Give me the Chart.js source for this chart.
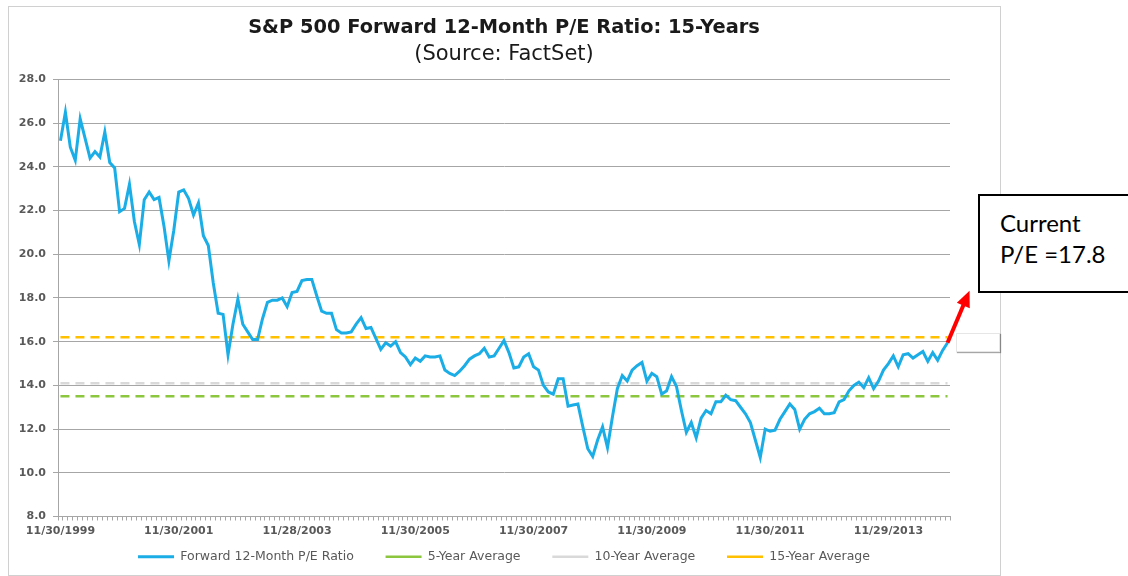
<!DOCTYPE html>
<html>
<head>
<meta charset="utf-8">
<script src="https://cdn.jsdelivr.net/npm/chart.js@4"></script>
<style>
    body { margin: 0; width: 1128px; height: 576px; overflow: hidden; background: #fff; position: relative; }
    #frame { position: absolute; left: 8px; top: 6px; width: 993px; height: 570px; box-sizing: border-box; border: 1px solid #d0d0d0; }
    #wrap { position: absolute; left: 8px; top: 6px; width: 992px; height: 569px; }
    #tag { position: absolute; left: 956px; top: 333px; width: 42px; height: 17px; background: #fff; border: 1px solid #e6e6e6; box-shadow: 1px 1px 1px rgba(0,0,0,0.35); }
    #note { position: absolute; left: 978px; top: 194px; width: 170px; height: 99px; border: 2px solid #000; background: #fff;
            font-family: Lato, sans-serif; font-size: 24px; line-height: 31px; padding: 11px 0 0 20px; box-sizing: border-box; color: #000; }
</style>
</head>
<body>
<div id="frame"></div>
<div id="wrap"><canvas id="chart1" width="992" height="569"></canvas></div>
<div id="tag"></div>
<div id="note">Current<br>P/E =17.8</div>
<script>
// monthly forward P/E, Nov 1999 .. Nov 2014
const peValues = [
    25.2, 26.5, 24.9, 24.3, 26.2, 25.3, 24.4, 24.7, 24.45, 25.6, 24.2, 23.95,
    21.95, 22.1, 23.2, 21.5, 20.45, 22.5, 22.85, 22.5, 22.6, 21.3, 19.7, 21.1,
    22.85, 22.95, 22.55, 21.8, 22.35, 20.85, 20.4, 18.7, 17.3, 17.25, 15.4, 16.8,
    17.95, 16.8, 16.45, 16.1, 16.1, 17.05, 17.8, 17.9, 17.9, 18.0, 17.6, 18.25,
    18.3, 18.8, 18.85, 18.85, 18.1, 17.4, 17.3, 17.3, 16.55, 16.4, 16.4, 16.45,
    16.8, 17.1, 16.6, 16.65, 16.15, 15.65, 15.95, 15.8, 16.0, 15.5, 15.3, 14.95,
    15.25, 15.1, 15.35, 15.3, 15.3, 15.35, 14.7, 14.55, 14.45, 14.65, 14.9, 15.2,
    15.35, 15.45, 15.7, 15.3, 15.35, 15.7, 16.05, 15.5, 14.8, 14.85, 15.3, 15.45,
    14.85, 14.7, 14.0, 13.7, 13.6, 14.3, 14.3, 13.05, 13.1, 13.15, 12.1, 11.1,
    10.75, 11.5, 12.1, 11.15, 12.55, 13.85, 14.45, 14.2, 14.7, 14.9, 15.05, 14.2,
    14.55, 14.4, 13.6, 13.75, 14.4, 13.95, 12.85, 11.85, 12.3, 11.6, 12.5, 12.85,
    12.7, 13.25, 13.25, 13.55, 13.35, 13.3, 13.0, 12.7, 12.3, 11.5, 10.7, 12.0,
    11.9, 11.95, 12.45, 12.8, 13.15, 12.9, 12.0, 12.45, 12.7, 12.8, 12.95, 12.7,
    12.7, 12.75, 13.25, 13.35, 13.75, 14.0, 14.15, 13.9, 14.35, 13.85, 14.2, 14.7,
    15.0, 15.35, 14.85, 15.4, 15.45, 15.25, 15.4, 15.55, 15.1, 15.5, 15.15, 15.6,
    15.95
];
const avg5 = 13.5;
const avg10 = 14.1;
const avg15 = 16.2;
const tickLabels = ['11/30/1999', '11/30/2001', '11/28/2003', '11/30/2005', '11/30/2007', '11/30/2009', '11/30/2011', '11/29/2013'];
const seriesNames = ['Forward 12-Month P/E Ratio', '5-Year Average', '10-Year Average', '15-Year Average'];
const seriesColors = ['#1AADE6', '#8CC63F', '#D9D9D9', '#FFC000'];

const months = [];
for (let i = 0; i < peValues.length; i++) {
    const m = (10 + i) % 12 + 1;
    const y = 1999 + Math.floor((10 + i) / 12);
    months.push(m + '/' + y);
}

const flat = v => peValues.map(() => v);

const arrowPlugin = {
    id: 'arrow',
    afterDraw(chart) {
        const meta = chart.getDatasetMeta(0);
        const last = meta.data[meta.data.length - 1];
        const x0 = last.x, y0 = last.y;
        const x1 = x0 + 22, y1 = y0 - 52;
        const ang = Math.atan2(y1 - y0, x1 - x0);
        const ctx = chart.ctx;
        ctx.save();
        ctx.strokeStyle = '#FF0000';
        ctx.fillStyle = '#FF0000';
        ctx.lineWidth = 4;
        ctx.beginPath();
        ctx.moveTo(x0, y0);
        ctx.lineTo(x1 - Math.cos(ang) * 12, y1 - Math.sin(ang) * 12);
        ctx.stroke();
        ctx.beginPath();
        ctx.moveTo(x1, y1);
        ctx.lineTo(x1 - Math.cos(ang) * 16 + Math.sin(ang) * 7, y1 - Math.sin(ang) * 16 - Math.cos(ang) * 7);
        ctx.lineTo(x1 - Math.cos(ang) * 16 - Math.sin(ang) * 7, y1 - Math.sin(ang) * 16 + Math.cos(ang) * 7);
        ctx.closePath();
        ctx.fill();
        ctx.restore();
    }
};

const ctx = document.getElementById('chart1').getContext('2d');
new Chart(ctx, {
    type: 'line',
    data: {
        labels: months,
        datasets: [
            { label: seriesNames[0], data: peValues, borderColor: seriesColors[0], backgroundColor: seriesColors[0], borderWidth: 3 },
            { label: seriesNames[1], data: flat(avg5), borderColor: seriesColors[1], backgroundColor: seriesColors[1], borderWidth: 2.5, borderDash: [9, 6] },
            { label: seriesNames[2], data: flat(avg10), borderColor: seriesColors[2], backgroundColor: seriesColors[2], borderWidth: 2.5, borderDash: [9, 6] },
            { label: seriesNames[3], data: flat(avg15), borderColor: seriesColors[3], backgroundColor: seriesColors[3], borderWidth: 2.5, borderDash: [9, 6] }
        ]
    },
    options: {
        responsive: false,
        animation: false,
        devicePixelRatio: 1,
        elements: { point: { radius: 0 }, line: { tension: 0 } },
        layout: { padding: { left: 0, right: 0, top: 0, bottom: 2 } },
        plugins: {
            title: {
                display: true,
                text: 'S&P 500 Forward 12-Month P/E Ratio: 15-Years',
                color: '#1a1a1a',
                font: { family: 'DejaVu Sans', size: 19.4, weight: 'bold' },
                padding: { top: 10, bottom: 3 }
            },
            subtitle: {
                display: true,
                text: '(Source: FactSet)',
                color: '#1a1a1a',
                font: { family: 'DejaVu Sans', size: 21 },
                padding: { top: 0, bottom: 12 }
            },
            legend: {
                position: 'bottom',
                labels: {
                    usePointStyle: true,
                    pointStyle: 'line',
                    pointStyleWidth: 36,
                    padding: 13,
                    color: '#595959',
                    font: { family: 'DejaVu Sans', size: 12.5 },
                    // wider gap after each entry, as in the Excel legend
                    generateLabels: chart => {
                        const items = Chart.defaults.plugins.legend.labels.generateLabels(chart);
                        items.forEach((it, i) => {
                            if (i < items.length - 1) it.text = it.text + '\u2002'.repeat(3);
                        });
                        return items;
                    }
                }
            },
            tooltip: { enabled: false }
        },
        scales: {
            x: {
                offset: true,
                grid: { offset: true, drawOnChartArea: false, color: '#A6A6A6', tickLength: 4 },
                border: { color: '#A6A6A6' },
                ticks: {
                    autoSkip: false,
                    maxRotation: 0,
                    padding: 4,
                    color: '#595959',
                    font: { family: 'DejaVu Sans', size: 11, weight: 'bold' },
                    callback: (v, i) => i % 24 === 0 ? tickLabels[i / 24] : ''
                },
                afterFit: s => { s.height = 21; }
            },
            y: {
                min: 8,
                max: 28,
                ticks: {
                    stepSize: 2,
                    padding: 7,
                    color: '#595959',
                    font: { family: 'DejaVu Sans', size: 11, weight: 'bold' },
                    callback: v => v.toFixed(1)
                },
                grid: { color: '#A6A6A6', tickLength: 5 },
                border: { color: '#A6A6A6' },
                afterFit: s => { s.width = 50; }
            },
            // empty right-hand gutter so the title and legend centre on the whole frame
            gutter: {
                type: 'linear',
                position: 'right',
                display: true,
                ticks: { display: false },
                grid: { display: false },
                border: { display: false },
                afterFit: s => { s.width = 50; }
            }
        }
    },
    plugins: [arrowPlugin]
});
</script>
</body>
</html>
